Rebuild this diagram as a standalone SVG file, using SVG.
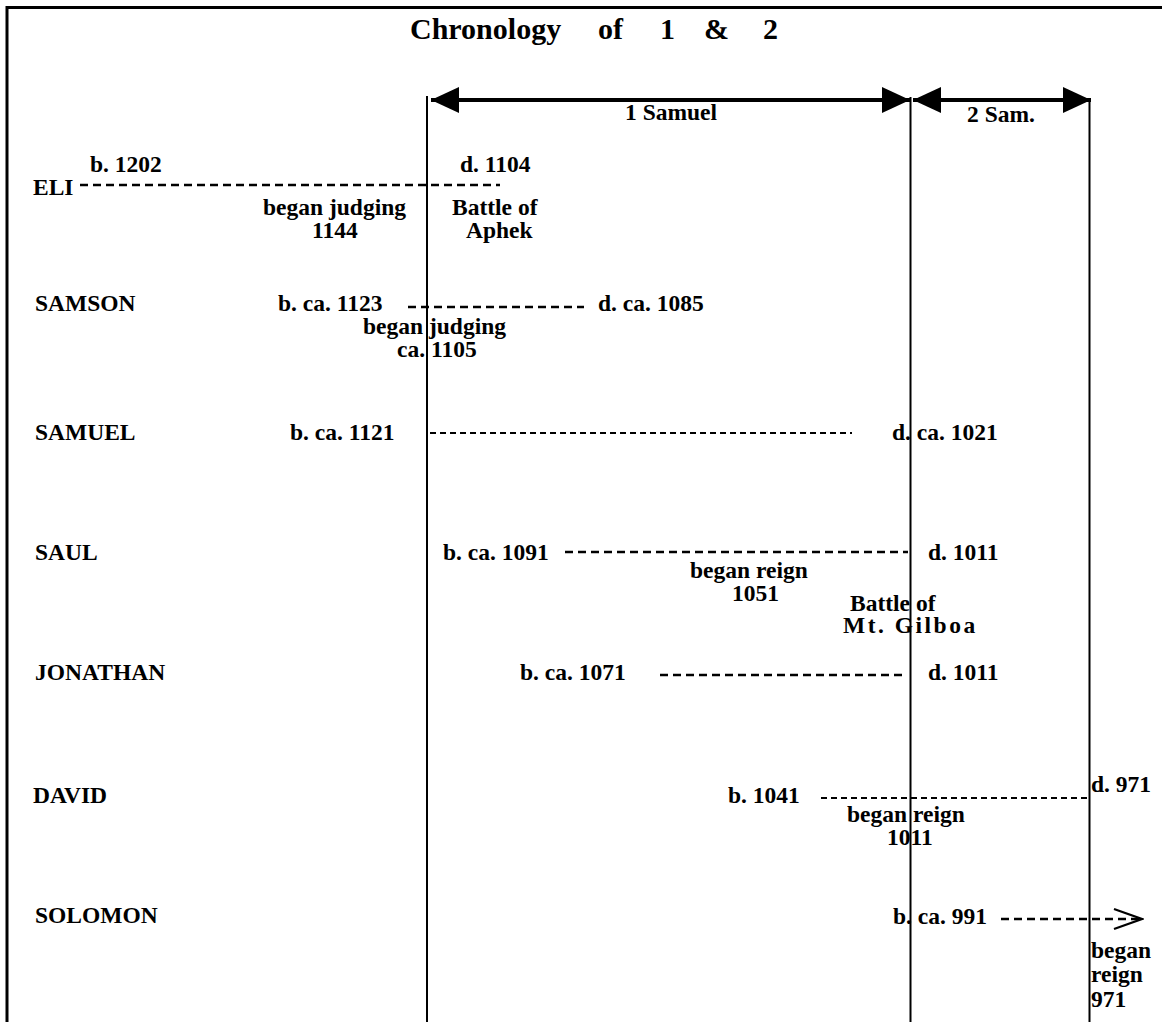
<svg xmlns="http://www.w3.org/2000/svg" width="1162" height="1022" viewBox="0 0 1162 1022">
<style>
text{font-family:"Liberation Serif","Times New Roman",serif;font-weight:bold;font-size:23.5px;fill:#000}
.title{font-size:30px}
.frame{stroke:#000;stroke-width:3;fill:none}
.vline{stroke:#000;stroke-width:2;fill:none}
.span{stroke:#000;stroke-width:4;fill:none}
.dash{stroke:#000;stroke-width:2.5;stroke-dasharray:8 5;fill:none}
.dashf{stroke:#000;stroke-width:1.8;stroke-dasharray:6 4;fill:none}
.spaced{letter-spacing:2.5px}
</style>
<defs>
<marker id="ah" viewBox="0 0 28 26" refX="28" refY="13" markerWidth="28" markerHeight="26" markerUnits="userSpaceOnUse" orient="auto-start-reverse">
<path d="M0,0 L28,13 L0,26 Z" fill="#000"/>
</marker>
<marker id="open" viewBox="0 0 32 24" refX="30" refY="12" markerWidth="32" markerHeight="24" markerUnits="userSpaceOnUse" orient="auto">
<polyline points="2,2 30,12 2,22" fill="none" stroke="#000" stroke-width="2.2"/>
</marker>
</defs>
<rect width="1162" height="1022" fill="#fff"/>
<g id="frame">
<line class="frame" x1="7" y1="7.5" x2="1162" y2="7.5"/>
<line class="frame" x1="7" y1="6" x2="7" y2="1022"/>
</g>
<g id="title">
<text class="title" x="410" y="39">Chronology</text>
<text class="title" x="598" y="39">of</text>
<text class="title" x="660" y="39">1</text>
<text class="title" x="704" y="39">&amp;</text>
<text class="title" x="763" y="39">2</text>
</g>
<g id="connectors">
<line class="vline" x1="427" y1="96" x2="427" y2="1022"/>
<line class="vline" x1="910.5" y1="97" x2="910.5" y2="1022"/>
<line class="vline" x1="1089.5" y1="98" x2="1089.5" y2="1022"/>
<line class="span" x1="431" y1="100" x2="910" y2="100" marker-start="url(#ah)" marker-end="url(#ah)"/>
<line class="span" x1="913" y1="100" x2="1091" y2="100" marker-start="url(#ah)" marker-end="url(#ah)"/>
<line class="dash" x1="80" y1="185" x2="500" y2="185"/>
<line class="dash" x1="408" y1="307" x2="584" y2="307"/>
<line class="dashf" x1="430" y1="433" x2="852" y2="433"/>
<line class="dash" x1="565" y1="552" x2="908" y2="552"/>
<line class="dash" x1="660" y1="675" x2="906" y2="675"/>
<line class="dashf" x1="821" y1="798" x2="1089" y2="798"/>
<line class="dash" x1="1001" y1="919" x2="1142" y2="919" marker-end="url(#open)"/>
</g>
<g id="book-1samuel"><text x="625" y="120">1 Samuel</text></g>
<g id="book-2samuel"><text x="967" y="122">2 Sam.</text></g>
<g id="eli">
<text x="33" y="195">ELI</text>
<text x="90" y="172">b. 1202</text>
<text x="460" y="172">d. 1104</text>
<text x="263" y="215">began judging</text>
<text x="312" y="238">1144</text>
<text x="452" y="215">Battle of</text>
<text x="466" y="238">Aphek</text>
</g>
<g id="samson">
<text x="35" y="311">SAMSON</text>
<text x="278" y="311">b. ca. 1123</text>
<text x="598" y="311">d. ca. 1085</text>
<text x="363" y="334">began judging</text>
<text x="397" y="357">ca. 1105</text>
</g>
<g id="samuel">
<text x="35" y="440">SAMUEL</text>
<text x="290" y="440">b. ca. 1121</text>
<text x="892" y="440">d. ca. 1021</text>
</g>
<g id="saul">
<text x="35" y="560">SAUL</text>
<text x="443" y="560">b. ca. 1091</text>
<text x="928" y="560">d. 1011</text>
<text x="690" y="578">began reign</text>
<text x="732" y="601">1051</text>
<text x="850" y="611">Battle of</text>
<text class="spaced" x="843" y="633">Mt. Gilboa</text>
</g>
<g id="jonathan">
<text x="35" y="680">JONATHAN</text>
<text x="520" y="680">b. ca. 1071</text>
<text x="928" y="680">d. 1011</text>
</g>
<g id="david">
<text x="33" y="803">DAVID</text>
<text x="728" y="803">b. 1041</text>
<text x="1091" y="792">d. 971</text>
<text x="847" y="822">began reign</text>
<text x="887" y="845">1011</text>
</g>
<g id="solomon">
<text x="35" y="923">SOLOMON</text>
<text x="893" y="924">b. ca. 991</text>
<text x="1091" y="958">began</text>
<text x="1091" y="982">reign</text>
<text x="1091" y="1007">971</text>
</g>
</svg>
